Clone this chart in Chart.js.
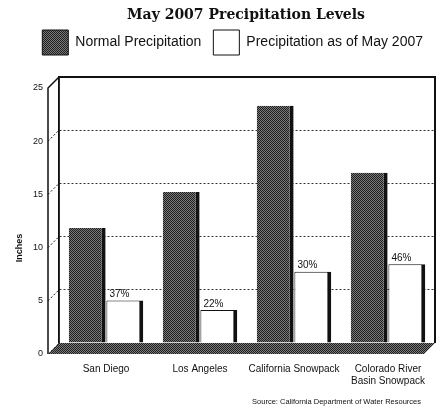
<!DOCTYPE html>
<html>
<head>
<meta charset="utf-8">
<script src="https://cdn.jsdelivr.net/npm/chart.js@4"></script>
<style>
  html, body { margin: 0; padding: 0; background: #fff; }
  #wrap { width: 438px; height: 410px; position: relative; }
</style>
</head>
<body>
<div id="wrap"><canvas id="chart"></canvas></div>
<script>
const categories = ['San Diego', 'Los Angeles', 'California Snowpack', ['Colorado River', 'Basin Snowpack']];
const normalInches = [10.8, 14.2, 22.3, 16.0];
const mayInches = [4.0, 3.1, 6.7, 7.4];
const percentLabels = ['37%', '22%', '30%', '46%'];
const yTicks = [0, 5, 10, 15, 20, 25];

const DEPTH = 11; // offset of the front edge of the 3D wall and floor

// halftone-ish fill for the dark bars
function dotPattern() {
  const c = document.createElement('canvas');
  c.width = 2; c.height = 2;
  const g = c.getContext('2d');
  g.fillStyle = '#7a7a7a'; g.fillRect(0, 0, 2, 2);
  g.fillStyle = '#1e1e1e'; g.fillRect(0, 0, 1, 1); g.fillRect(1, 1, 1, 1);
  return g.createPattern(c, 'repeat');
}
const dark = dotPattern();

// a bit more room between legend and plot
const legendGap = {
  id: 'legendGap',
  beforeInit(chart) {
    const fit = chart.legend.fit;
    chart.legend.fit = function () {
      fit.call(this);
      this.height += 12;
    };
  }
};

// title, source line, 3D wall/floor, axis labels and the percent labels
const decorations = {
  id: 'decorations',
  afterDraw(chart) {
    const { ctx, chartArea: a } = chart;
    const y = chart.scales.y;
    const d = DEPTH;
    ctx.save();
    ctx.fillStyle = '#111';
    ctx.font = 'bold 14px "DejaVu Serif"';
    ctx.textAlign = 'center';
    ctx.textBaseline = 'middle';
    ctx.fillText('May 2007 Precipitation Levels', 246, 15);

    ctx.font = '7.5px "Liberation Sans"';
    ctx.textAlign = 'right';
    ctx.fillText('Source: California Department of Water Resources', 421, 402);

    // frame
    ctx.strokeStyle = '#111';
    ctx.lineWidth = 2;
    ctx.beginPath();
    ctx.moveTo(a.left, a.top); ctx.lineTo(a.right, a.top); ctx.lineTo(a.right, a.bottom);
    ctx.stroke();

    // left wall
    ctx.lineWidth = 1.5;
    ctx.beginPath();
    ctx.moveTo(a.left, a.top); ctx.lineTo(a.left - d, a.top + d);
    ctx.lineTo(a.left - d, a.bottom + d);
    ctx.moveTo(a.left, a.top); ctx.lineTo(a.left, a.bottom);
    ctx.stroke();
    ctx.lineWidth = 1;
    ctx.setLineDash([2, 2]);
    yTicks.forEach(v => {
      const py = y.getPixelForValue(v);
      ctx.beginPath();
      ctx.moveTo(a.left - d, py + d); ctx.lineTo(a.left, py);
      ctx.stroke();
    });
    ctx.setLineDash([]);

    // y tick labels sit on the front edge of the wall
    ctx.font = '9px "Liberation Sans"';
    ctx.textAlign = 'right';
    ctx.textBaseline = 'middle';
    yTicks.forEach(v => {
      ctx.fillText(String(v), a.left - d - 5, y.getPixelForValue(v) + d);
    });

    ctx.save();
    ctx.translate(20, 248);
    ctx.rotate(-Math.PI / 2);
    ctx.textAlign = 'center';
    ctx.font = 'bold 9px "Liberation Sans"';
    ctx.fillText('Inches', 0, 0);
    ctx.restore();

    // floor
    ctx.fillStyle = dark;
    ctx.beginPath();
    ctx.moveTo(a.left, a.bottom); ctx.lineTo(a.right, a.bottom);
    ctx.lineTo(a.right - d, a.bottom + d); ctx.lineTo(a.left - d, a.bottom + d);
    ctx.closePath();
    ctx.fill();

    // percent labels above the white bars
    const meta = chart.getDatasetMeta(1);
    ctx.fillStyle = '#111';
    ctx.font = '10px "Liberation Sans"';
    ctx.textAlign = 'left';
    ctx.textBaseline = 'bottom';
    meta.data.forEach((bar, i) => {
      ctx.fillText(percentLabels[i], bar.x - bar.width / 2 + 3, bar.y - 1);
    });
    ctx.restore();
  }
};

new Chart(document.getElementById('chart'), {
  type: 'bar',
  data: {
    labels: categories,
    datasets: [
      {
        label: 'Normal Precipitation',
        data: normalInches,
        backgroundColor: dark,
        borderColor: '#111',
        borderWidth: { right: 4, top: 0, left: 0, bottom: 0 },
        borderSkipped: 'bottom',
        categoryPercentage: 0.8,
        barPercentage: 0.98
      },
      {
        label: 'Precipitation as of May 2007',
        data: mayInches,
        backgroundColor: '#fff',
        borderColor: '#111',
        borderWidth: { right: 4, top: 1, left: 1, bottom: 0 },
        borderSkipped: 'bottom',
        categoryPercentage: 0.8,
        barPercentage: 0.98
      }
    ]
  },
  options: {
    responsive: true,
    maintainAspectRatio: false,
    animation: false,
    layout: { padding: { top: 18, left: 8, right: 3, bottom: 20 } },
    plugins: {
      title: { display: false },
      tooltip: { enabled: false },
      legend: {
        position: 'top',
        align: 'end',
        labels: {
          boxWidth: 26,
          boxHeight: 25,
          padding: 12,
          color: '#111',
          font: { family: 'Liberation Sans', size: 14 },
          generateLabels(chart) {
            return chart.data.datasets.map((ds, i) => ({
              text: ds.label,
              fillStyle: ds.backgroundColor,
              strokeStyle: '#111',
              lineWidth: 1,
              fontColor: '#111',
              datasetIndex: i
            }));
          }
        }
      }
    },
    scales: {
      x: {
        grid: { display: false },
        border: { display: false },
        ticks: {
          color: '#111',
          padding: 12,
          maxRotation: 0,
          autoSkip: false,
          font: { family: 'Liberation Sans', size: 10 }
        },
        afterFit(scale) { scale.height = 47; }
      },
      y: {
        min: 0,
        max: 25,
        afterBuildTicks(scale) { scale.ticks = yTicks.map(v => ({ value: v })); },
        grid: { color: '#333', lineWidth: 1, drawTicks: false },
        border: { display: true, color: '#111', width: 1.5, dash: [2, 2] },
        ticks: { display: false },
        afterFit(scale) { scale.width = 51; }
      }
    }
  },
  plugins: [legendGap, decorations]
});
</script>
</body>
</html>
